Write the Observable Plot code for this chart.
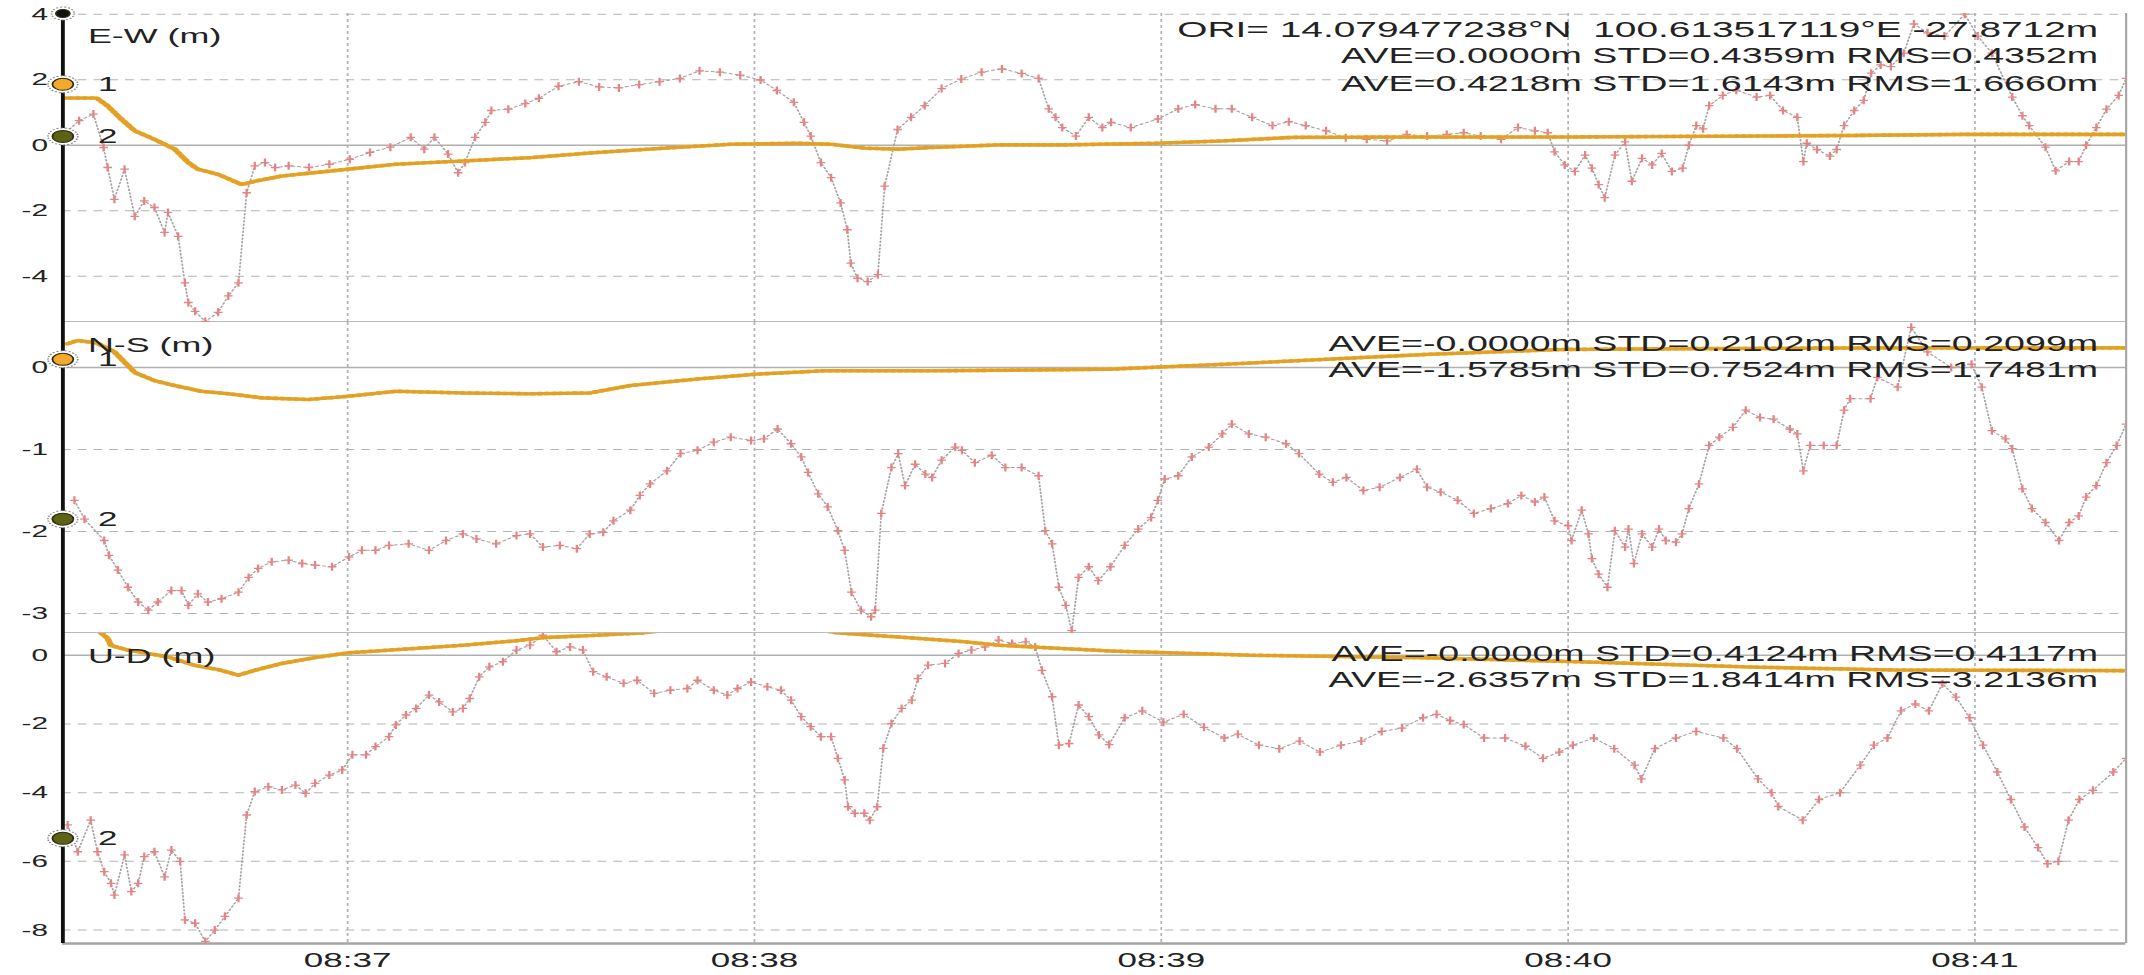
<!DOCTYPE html>
<html><head><meta charset="utf-8">
<script src="https://cdn.jsdelivr.net/npm/d3@7"></script>
<script src="https://cdn.jsdelivr.net/npm/@observablehq/plot@0.6"></script>
<style>
html,body{margin:0;padding:0;background:#fff;}
#chart{width:2144px;height:975px;overflow:hidden;background:#fff;}
#chart svg{display:block;}
#chart svg text{white-space:pre;}
</style></head><body><div id="chart"></div>
<script>
// ---------- data (t = seconds after 08:36:18, v = metres) ----------
const startTime = "2020-01-01T08:36:18Z";
const endSeconds = 304.3;
const minuteTicks = ["08:37","08:38","08:39","08:40","08:41"];

const ewTicks = [4, 2, 0, -2, -4];
const nsTicks = [0, -1, -2, -3];
const udTicks = [0, -2, -4, -6, -8];

const ewStats = ["ORI= 14.079477238°N  100.613517119°E -27.8712m",
                 "AVE=0.0000m STD=0.4359m RMS=0.4352m",
                 "AVE=0.4218m STD=1.6143m RMS=1.6660m"];
const nsStats = ["AVE=-0.0000m STD=0.2102m RMS=0.2099m",
                 "AVE=-1.5785m STD=0.7524m RMS=1.7481m"];
const udStats = ["AVE=-0.0000m STD=0.4124m RMS=0.4117m",
                 "AVE=-2.6357m STD=1.8414m RMS=3.2136m"];

const ewAxisDots = [{id:"top", v:4.02}, {id:"1", v:1.86}, {id:"2", v:0.27}];
const nsAxisDots = [{id:"1", v:0.1}, {id:"2", v:-1.85}];
const udAxisDots = [{id:"2", v:-5.33}];

// series 1 (orange)
const ew1 = [[0,1.44],[5,1.44],[6.6,1.2],[8.6,0.8],[10.6,0.44],[13.5,0.18],[16.5,-0.12],[18.5,-0.53],[19.9,-0.73],[22.9,-0.89],[26.4,-1.2],[28.3,-1.1],[32.3,-0.94],[39.3,-0.79],[49.1,-0.58],[59,-0.48],[68.9,-0.38],[78.8,-0.22],[88.6,-0.09],[98.5,0.03],[108.4,0.06],[113.3,0.03],[118.3,-0.09],[123.2,-0.12],[128.2,-0.07],[138,0.01],[147.9,0.01],[161,0.06],[171,0.13],[181.4,0.24],[200,0.25],[220,0.25],[250,0.28],[265,0.3],[280,0.33],[304.3,0.33]];
const ns1 = [[0.7,0.29],[2.2,0.33],[5,0.3],[7.6,0.19],[10.6,-0.06],[13.5,-0.16],[16.5,-0.22],[20.4,-0.29],[24.4,-0.32],[29.3,-0.37],[36.2,-0.39],[42.2,-0.35],[49.1,-0.29],[59,-0.31],[68.9,-0.32],[77.7,-0.31],[83.7,-0.22],[93.6,-0.14],[102.5,-0.08],[112.3,-0.04],[128.2,-0.04],[142.9,-0.03],[154.6,-0.02],[171.4,0.04],[186.3,0.1],[201.2,0.16],[221,0.22],[240.9,0.23],[270,0.24],[304.3,0.24]];
const ud1 = [[0,0.8],[5,0.75],[6.6,0.49],[7.1,0.28],[9.6,0.15],[15.5,-0.05],[19.5,-0.3],[22.9,-0.42],[25.9,-0.58],[28.3,-0.44],[32.3,-0.24],[37.2,-0.07],[42.2,0.07],[49.1,0.16],[59,0.29],[66.9,0.42],[70.8,0.51],[78.7,0.58],[85.6,0.65],[90,0.75],[100,0.85],[110,0.78],[114.3,0.65],[123.2,0.53],[133,0.39],[138,0.29],[143,0.24],[154.6,0.12],[175,0.0],[200,-0.07],[225,-0.2],[250,-0.35],[270,-0.43],[304.3,-0.45]];

// series 2 (red)
const ew2 = [[0.5,0.4],[2.4,0.75],[4.5,0.95],[6,-0.07],[6.6,-0.68],[7.6,-1.65],[9.1,-0.73],[10.6,-2.17],[12,-1.7],[13.5,-1.9],[15,-2.66],[15.5,-2.05],[17,-2.78],[18,-4.2],[18.5,-4.8],[19.5,-5.07],[21,-5.38],[22.9,-5.1],[24.4,-4.6],[25.9,-4.2],[27.1,-1.45],[28.3,-0.63],[29.8,-0.53],[31.3,-0.68],[33.3,-0.63],[36.3,-0.68],[39.3,-0.58],[42.3,-0.43],[45.3,-0.22],[48.3,-0.06],[51.3,0.24],[53.3,-0.12],[54.8,0.24],[56.8,-0.27],[58.3,-0.84],[59.3,-0.53],[60.8,0.24],[62.3,0.7],[63.2,1.06],[65.7,1.1],[68.2,1.27],[70.2,1.43],[73.1,1.8],[76.1,1.94],[79.1,1.78],[82,1.75],[85,1.85],[88,1.94],[91,2.04],[93.9,2.27],[96.9,2.23],[99.9,2.14],[102.9,1.99],[105.3,1.67],[107.8,1.31],[109.3,0.7],[110.3,0.28],[111.8,-0.53],[113.3,-0.99],[114.7,-1.76],[115.7,-2.58],[116.2,-3.6],[117.2,-4.06],[118.7,-4.16],[120.2,-3.95],[121.2,-1.25],[123.1,0.48],[125.1,0.85],[127.1,1.21],[129.6,1.73],[132.5,2.02],[135.5,2.23],[138.5,2.33],[141.4,2.19],[143.9,2.04],[145.4,1.11],[146.4,0.85],[147.4,0.54],[149.4,0.28],[151.3,0.85],[153.3,0.54],[154.6,0.7],[157.5,0.54],[161.5,0.8],[164.5,1.11],[167,1.24],[170,1.11],[172.4,1.11],[175.4,0.85],[178.4,0.6],[180.8,0.72],[183.3,0.6],[186.3,0.44],[189.2,0.23],[192.3,0.18],[195.3,0.13],[198.2,0.33],[201.2,0.28],[204.1,0.33],[206.6,0.38],[209.1,0.28],[212.1,0.18],[214.6,0.54],[217.1,0.44],[219,0.38],[220,-0.2],[221.5,-0.6],[223,-0.8],[224.5,-0.3],[225.5,-0.7],[226.5,-1.2],[227.4,-1.6],[228.9,-0.3],[230.4,0.1],[231.4,-1.1],[232.9,-0.4],[234.4,-0.6],[235.8,-0.25],[237.3,-0.8],[238.9,-0.7],[239.8,0.0],[240.9,0.6],[241.9,0.5],[242.8,1.21],[244.8,1.52],[246.8,1.68],[249.8,1.47],[251.8,1.52],[253.7,1.06],[255.8,0.85],[256.7,-0.5],[257.2,0.06],[258.7,-0.13],[260.6,-0.33],[261.6,-0.13],[262.7,0.6],[264.2,1.06],[265.6,1.37],[266.7,2.2],[268.1,2.45],[269.6,2.4],[271.5,2.81],[273,3.7],[275,3.43],[277.5,3.33],[280.5,4.0],[282.4,3.33],[284.5,2.81],[287.5,1.47],[289,0.9],[290,0.6],[292.4,-0.06],[293.9,-0.78],[295.9,-0.5],[297.3,-0.5],[298.4,0.0],[299.9,0.54],[301.4,1.1],[303.2,1.52],[304.3,2.04]];
const ns2 = [[1.7,-1.62],[3.2,-1.85],[6.1,-2.11],[6.8,-2.29],[8.1,-2.47],[9.6,-2.68],[11.1,-2.86],[12.6,-2.96],[14,-2.86],[16,-2.72],[17.5,-2.72],[18.5,-2.9],[19.9,-2.76],[21.4,-2.86],[23.4,-2.82],[25.9,-2.74],[27.4,-2.56],[28.8,-2.45],[30.8,-2.37],[33.3,-2.35],[35.3,-2.39],[37.2,-2.41],[39.7,-2.43],[42.2,-2.31],[44.1,-2.23],[46.1,-2.23],[48.1,-2.17],[51,-2.15],[54,-2.23],[56.5,-2.11],[59,-2.03],[61,-2.09],[63.9,-2.15],[66.9,-2.05],[68.9,-2.03],[70.8,-2.19],[73.3,-2.17],[75.8,-2.21],[77.7,-2.03],[79.7,-2.01],[81.2,-1.87],[83.7,-1.74],[85.1,-1.56],[86.6,-1.42],[89.1,-1.26],[91.1,-1.05],[93.6,-1.01],[96,-0.91],[98.5,-0.85],[101.5,-0.89],[103.4,-0.87],[105.4,-0.75],[107.4,-0.93],[108.9,-1.09],[109.9,-1.28],[111.4,-1.54],[112.8,-1.7],[114.3,-1.99],[115.3,-2.23],[116.3,-2.74],[117.7,-2.96],[119.2,-3.04],[119.8,-2.96],[120.7,-1.78],[122.2,-1.22],[123.2,-1.05],[124.2,-1.44],[125.7,-1.18],[127.2,-1.3],[128.2,-1.34],[129.6,-1.13],[131.6,-0.97],[132.6,-1.01],[134.5,-1.16],[137,-1.07],[139,-1.22],[141.4,-1.22],[143.9,-1.32],[144.9,-1.99],[145.9,-2.15],[146.9,-2.68],[147.9,-2.9],[148.8,-3.21],[149.8,-2.56],[151.3,-2.43],[152.7,-2.6],[154.5,-2.43],[156.6,-2.17],[158.6,-1.97],[160.5,-1.83],[161.5,-1.62],[162.5,-1.36],[164.5,-1.32],[166.5,-1.09],[169,-0.97],[171,-0.81],[172.4,-0.69],[174.9,-0.81],[177.4,-0.85],[180.4,-0.93],[182.3,-1.05],[185.3,-1.3],[187.3,-1.4],[189.3,-1.34],[191.8,-1.5],[194.2,-1.46],[197.2,-1.34],[199.7,-1.24],[201.2,-1.46],[203.2,-1.52],[205.7,-1.62],[208.1,-1.78],[210.6,-1.72],[213.1,-1.66],[215.1,-1.56],[217.1,-1.64],[218.5,-1.58],[220,-1.87],[222,-1.93],[222.5,-2.11],[224,-1.74],[225,-2.03],[225.5,-2.33],[226.5,-2.52],[227.8,-2.68],[228.9,-1.99],[230.4,-2.19],[230.9,-1.97],[231.7,-2.39],[232.9,-2.03],[234.4,-2.19],[235.4,-1.97],[236.4,-2.11],[237.9,-2.13],[238.8,-2.03],[239.8,-1.72],[241.3,-1.42],[242.8,-0.95],[244.3,-0.85],[246.3,-0.73],[248.2,-0.52],[250.3,-0.61],[252.3,-0.63],[254.7,-0.75],[255.8,-0.81],[256.7,-1.26],[257.7,-0.95],[259.7,-0.95],[261.6,-0.95],[262.7,-0.52],[263.6,-0.38],[266.6,-0.38],[267.6,-0.12],[270.6,-0.24],[272.6,0.49],[275,0.19],[278.5,0.0],[281.5,0.04],[283,-0.24],[284.5,-0.77],[286.5,-0.87],[287.5,-0.99],[289,-1.48],[290.4,-1.72],[292.4,-1.89],[294.4,-2.11],[295.9,-1.89],[297.3,-1.81],[298.4,-1.58],[299.9,-1.44],[301.4,-1.16],[302.9,-0.95],[304.3,-0.69]];
const ud2 = [[0.7,-4.94],[2.2,-5.72],[4.1,-4.8],[5.1,-5.72],[6.1,-6.3],[7.1,-6.64],[7.6,-6.98],[9.1,-5.81],[10.1,-6.88],[11.1,-6.64],[12,-5.86],[13.5,-5.72],[15,-6.45],[16,-5.67],[17.3,-6.0],[18,-7.7],[19.5,-7.8],[21,-8.33],[22.4,-8.0],[23.9,-7.6],[25.9,-7.07],[27.1,-4.65],[28.3,-3.97],[30.3,-3.83],[32.3,-3.92],[34.3,-3.78],[35.8,-4.02],[37.2,-3.73],[39.3,-3.49],[41.2,-3.34],[42.7,-2.9],[44.7,-2.9],[46.1,-2.66],[48.1,-2.37],[49.1,-2.03],[50.6,-1.74],[52.1,-1.55],[54,-1.16],[55.5,-1.36],[57.5,-1.65],[59,-1.55],[60,-1.26],[61.4,-0.63],[62.9,-0.34],[64.9,-0.19],[66.9,0.15],[68.9,0.29],[70.8,0.58],[72.8,0.1],[74.8,0.24],[76.7,0.15],[78.2,-0.48],[80.2,-0.63],[82.7,-0.82],[84.7,-0.73],[87.2,-1.11],[89.6,-1.02],[92.1,-0.97],[93.6,-0.73],[96,-1.02],[98,-1.16],[99.5,-0.97],[101.5,-0.78],[103.9,-0.92],[105.9,-1.02],[107.4,-1.31],[108.9,-1.79],[110.3,-2.08],[111.8,-2.37],[113.3,-2.37],[114.3,-3.0],[115.3,-3.63],[115.8,-4.41],[116.8,-4.6],[118.2,-4.6],[119,-4.8],[120.1,-4.41],[121,-2.71],[122.2,-1.99],[123.7,-1.55],[125.2,-1.31],[126.1,-0.68],[127.6,-0.29],[130.1,-0.24],[132.1,0.05],[134,0.15],[136,0.24],[138,0.44],[140,0.34],[142,0.39],[143.4,0.24],[144.4,-0.44],[145.9,-1.21],[146.9,-2.62],[148.4,-2.57],[149.8,-1.45],[151.3,-1.79],[152.8,-2.32],[154.3,-2.6],[156.6,-1.82],[159.2,-1.62],[162.3,-1.95],[165.3,-1.72],[168.3,-2.1],[171.3,-2.41],[173.3,-2.3],[176.4,-2.62],[179.4,-2.72],[182.4,-2.5],[185.4,-2.82],[188.5,-2.62],[191.5,-2.5],[194.5,-2.22],[197.5,-2.12],[200.6,-1.82],[202.6,-1.72],[204.6,-1.9],[206.6,-2.02],[209.6,-2.41],[212.7,-2.41],[215.7,-2.65],[218.3,-3.0],[220.7,-2.82],[222.7,-2.62],[225.8,-2.41],[228.8,-2.72],[231.8,-3.2],[232.8,-3.6],[234.8,-2.72],[237.9,-2.41],[240.9,-2.22],[244.9,-2.41],[246.9,-2.72],[250,-3.6],[252,-4.0],[253,-4.4],[256.6,-4.8],[259,-4.2],[262.1,-4.0],[265.1,-3.2],[267.1,-2.62],[269.1,-2.41],[271.1,-1.62],[273.2,-1.42],[275.2,-1.62],[277.2,-0.83],[279.2,-1.22],[281.2,-1.82],[283.2,-2.62],[285.3,-3.4],[287.3,-4.2],[289.3,-5.0],[291.3,-5.6],[292.7,-6.07],[294.3,-6.0],[295.8,-4.8],[297.4,-4.2],[299.4,-3.93],[302.4,-3.4],[304.3,-3.0]];

// ---------- drawing ----------
const W = 2144;            // page width
const SX = 1.75;           // the reference screenshot is stretched horizontally
const W0 = W / SX;         // native drawing width
const t0 = Date.parse(startTime);
const T = s => new Date(t0 + s * 1000);
const minuteDates = minuteTicks.map(s => { const [h, m] = s.split(":"); return new Date(Date.UTC(2020,0,1,+h,+m,0)); });
const GRID = "#b4b4b4", BORDER = "#a4a4a4";
const dotStyle = {"top": {fill:"#111", r:4}, "1": {fill:"#f2a92c", r:6}, "2": {fill:"#5d6214", r:6}};
const plusSymbol = {draw(ctx, size) { const r = Math.sqrt(size / Math.PI), h = r * 0.62;
  ctx.moveTo(-h, 0); ctx.lineTo(h, 0); ctx.moveTo(0, -r); ctx.lineTo(0, r); }};

function panel(cfg) {
  const xMin = T(0), xMax = T(endSeconds);
  const X = d => T(d[0]), Y = d => d[1];
  const marks = [
    Plot.ruleY(cfg.ticks.filter(d => d !== 0), {stroke: GRID, strokeDasharray: "5,4"}),
    Plot.ruleX(minuteDates, {stroke: GRID, strokeDasharray: "3,3"}),
    Plot.ruleY([0], {stroke: "#b0b0b0", strokeWidth: 1.4}),
    Plot.ruleY([cfg.domain[0]], {stroke: BORDER, strokeWidth: 2.4}),
    Plot.ruleX([xMax], {stroke: BORDER, strokeWidth: 1.2}),
    Plot.line(cfg.rover, {x: X, y: Y, stroke: "#a8a0a0", strokeWidth: 1, strokeDasharray: "1.5,2", clip: true}),
    Plot.dot(cfg.rover, {x: X, y: Y, symbol: plusSymbol, r: 4, fill: "none", stroke: "#e48484", strokeWidth: 1.3, clip: true}),
    Plot.line(cfg.base, {x: X, y: Y, stroke: "#f5bf2e", strokeWidth: 3.6, clip: true}),
    Plot.line(cfg.base, {x: X, y: Y, stroke: "#e0a02a", strokeWidth: 3.6, strokeDasharray: "1,3", clip: true}),
    Plot.ruleX([xMin], {stroke: "#111", strokeWidth: 2.2}),
    Plot.axisY({ticks: cfg.ticks, tickSize: 0, tickPadding: 8.5, tickFormat: d => String(d), fontSize: 17, label: null}),
    Plot.text([cfg.label], {frameAnchor: "top-left", dx: 14.3, dy: 23, textAnchor: "start", lineAnchor: "middle", fontSize: 20.5, fill: "#222"})
  ];
  for (const m of cfg.axisDots) {
    const st = dotStyle[m.id];
    marks.push(Plot.dot([m], {x: () => xMin, y: d => d.v, r: st.r + 2.5, fill: "white", stroke: "#8a8a8a", strokeWidth: 1, strokeDasharray: "1.2,1.2"}));
    marks.push(Plot.dot([m], {x: () => xMin, y: d => d.v, r: st.r, fill: st.fill, stroke: "#2e2a14", strokeWidth: 1}));
    if (m.id !== "top") marks.push(Plot.text([m], {x: () => xMin, y: d => d.v, text: d => d.id, dx: 20, textAnchor: "start", fontSize: 20, fill: "#222"}));
  }
  cfg.stats.forEach((s, i) => marks.push(Plot.text([s], {frameAnchor: "top-right", dx: -16, dy: cfg.statsY[i] - cfg.mt, textAnchor: "end", lineAnchor: "middle", fontSize: s.startsWith("ORI") ? 22.2 : 21.5, fill: "#222"})));
  if (cfg.xAxis) marks.push(Plot.axisX({ticks: minuteDates, tickFormat: d3.utcFormat("%H:%M"), tickSize: 0, tickPadding: 9, fontSize: 20, label: null}));
  const svg = Plot.plot({
    width: W0, height: cfg.height,
    marginLeft: 35.43, marginRight: 10.7, marginTop: cfg.mt, marginBottom: cfg.mb,
    style: {fontFamily: "'Liberation Sans', Arial, sans-serif", fontSize: "17px", color: "#222", background: "transparent"},
    x: {type: "utc", domain: [xMin, xMax], axis: cfg.xAxis ? undefined : null},
    y: {domain: cfg.domain},
    marks
  });
  svg.setAttribute("viewBox", `0 0 ${W0} ${cfg.height}`);
  svg.setAttribute("width", W);
  svg.setAttribute("height", cfg.height);
  svg.setAttribute("preserveAspectRatio", "none");
  svg.style.width = W + "px";
  svg.style.height = cfg.height + "px";
  svg.style.maxWidth = "none";
  return svg;
}

const chart = document.getElementById("chart");
chart.appendChild(panel({height: 322, mt: 13, mb: 0, domain: [-5.41, 4.02], ticks: ewTicks, label: "E-W (m)",
  rover: ew2, base: ew1, axisDots: ewAxisDots, stats: ewStats, statsY: [29, 56, 84]}));
chart.appendChild(panel({height: 311, mt: 0, mb: 0, domain: [-3.244, 0.549], ticks: nsTicks, label: "N-S (m)",
  rover: ns2, base: ns1, axisDots: nsAxisDots, stats: nsStats, statsY: [22, 48]}));
chart.appendChild(panel({height: 342, mt: 0, mb: 32, domain: [-8.39, 0.631], ticks: udTicks, label: "U-D (m)",
  rover: ud2, base: ud1, axisDots: udAxisDots, stats: udStats, statsY: [21, 47], xAxis: true}));
</script></body></html>
